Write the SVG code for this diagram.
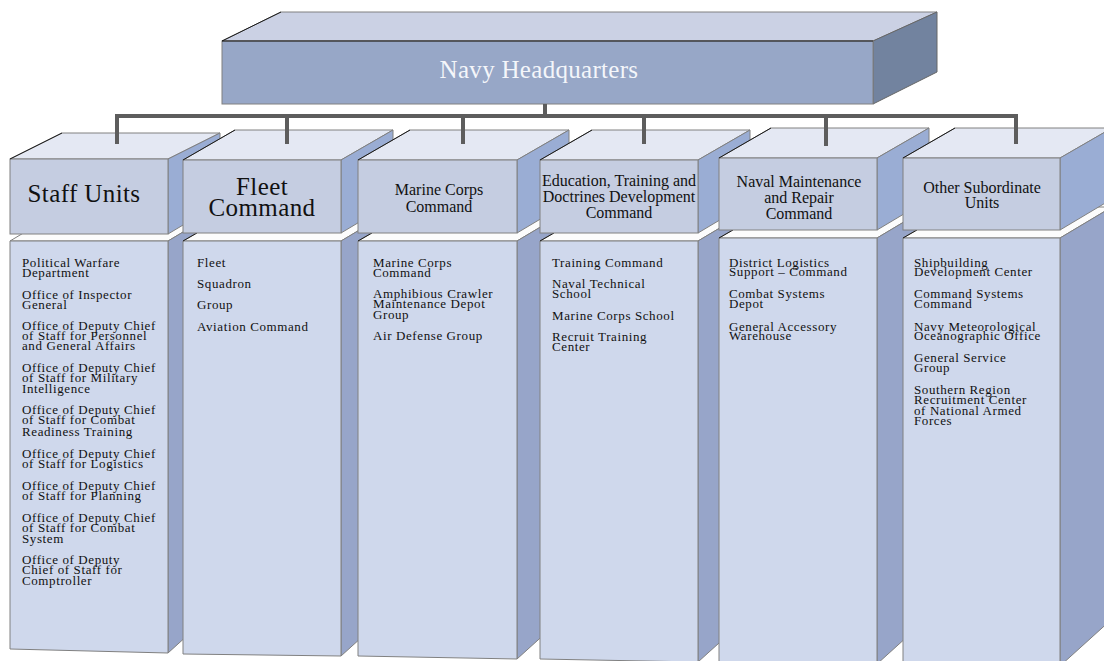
<svg xmlns="http://www.w3.org/2000/svg" width="1104" height="661" viewBox="0 0 1104 661">
<style>
.hf{fill:#c5cde1;stroke:#808080;stroke-width:1}
.ht{fill:#e4e8f3;stroke:#808080;stroke-width:1}
.hr{fill:#9aadd4;stroke:#808080;stroke-width:1}
.bf{fill:#cfd8ec;stroke:#808080;stroke-width:1}
.bt{fill:#fcfcfc;stroke:#808080;stroke-width:1}
.br{fill:#97a5c9;stroke:#808080;stroke-width:1}
.qf{fill:#97a7c7;stroke:#808080;stroke-width:1}
.qt{fill:#cbd1e4;stroke:#808080;stroke-width:1}
.qr{fill:#72839f;stroke:#666;stroke-width:1}
.edge{stroke:#1a1a1a;stroke-width:1;fill:none}
text{font-family:"Liberation Serif","Times New Roman",serif}
.hq{font-size:25px;fill:#f4f6fa;text-anchor:middle;letter-spacing:0.3px}
.big{font-size:25px;fill:#111;text-anchor:middle;letter-spacing:0.4px}
.mid{font-size:16px;fill:#111;text-anchor:middle}
.item{font-size:13px;fill:#111;letter-spacing:0.6px}
.conn{stroke:#5d5d5d;stroke-width:4;fill:none}
</style>

<g id="hq">
<polygon class="qt" points="222,41 873,41 937,12 281,12"/>
<polygon class="qr" points="873,41 937,12 937,72 873,104"/>
<rect class="qf" x="222" y="41" width="651" height="63"/>
<path class="edge" d="M222,41 L281,12 M222,41 H873"/>
<text class="hq" x="539" y="78">Navy Headquarters</text>
</g>

<g id="staff-units-list">
<polygon class="bt" points="10,241 168,241 220,210 62,210"/>
<polygon class="br" points="168,241 220,210 220,606 168,653"/>
<polygon class="bf" points="10,241 168,241 168,653 10,649"/>
<text class="item">
<tspan x="22" y="267">Political Warfare</tspan>
<tspan x="22" y="277">Department</tspan>
<tspan x="22" y="299">Office of Inspector</tspan>
<tspan x="22" y="309">General</tspan>
<tspan x="22" y="330">Office of Deputy Chief</tspan>
<tspan x="22" y="340">of Staff for Personnel</tspan>
<tspan x="22" y="350">and General Affairs</tspan>
<tspan x="22" y="372">Office of Deputy Chief</tspan>
<tspan x="22" y="382">of Staff for Military</tspan>
<tspan x="22" y="393">Intelligence</tspan>
<tspan x="22" y="414">Office of Deputy Chief</tspan>
<tspan x="22" y="424">of Staff for Combat</tspan>
<tspan x="22" y="436">Readiness Training</tspan>
<tspan x="22" y="458">Office of Deputy Chief</tspan>
<tspan x="22" y="468">of Staff for Logistics</tspan>
<tspan x="22" y="490">Office of Deputy Chief</tspan>
<tspan x="22" y="500">of Staff for Planning</tspan>
<tspan x="22" y="522">Office of Deputy Chief</tspan>
<tspan x="22" y="532">of Staff for Combat</tspan>
<tspan x="22" y="543">System</tspan>
<tspan x="22" y="564">Office of Deputy</tspan>
<tspan x="22" y="574">Chief of Staff for</tspan>
<tspan x="22" y="585">Comptroller</tspan>
</text>
</g>
<g id="staff-units">
<polygon class="ht" points="10,159 168,159 220,133 62,133"/>
<polygon class="hr" points="168,159 220,133 220,203 168,234"/>
<rect class="hf" x="10" y="159" width="158" height="75"/>
<path class="edge" d="M10,159 L62,133"/>
<text class="big" x="84" y="202">Staff Units</text>
</g>

<g id="fleet-command-list">
<polygon class="bt" points="183,241 341,241 393,210 235,210"/>
<polygon class="br" points="341,241 393,210 393,609 341,656"/>
<polygon class="bf" points="183,241 341,241 341,656 183,654"/>
<path class="edge" d="M183,241 L197,233"/>
<text class="item">
<tspan x="197" y="267">Fleet</tspan>
<tspan x="197" y="288">Squadron</tspan>
<tspan x="197" y="309">Group</tspan>
<tspan x="197" y="331">Aviation Command</tspan>
</text>
</g>
<g id="fleet-command">
<polygon class="ht" points="183,160 341,160 393,130 235,130"/>
<polygon class="hr" points="341,160 393,130 393,202 341,233"/>
<rect class="hf" x="183" y="160" width="158" height="73"/>
<path class="edge" d="M183,160 L235,130"/>
<text class="big" x="262" y="195">Fleet</text>
<text class="big" x="262" y="216">Command</text>
</g>

<g id="marine-corps-command-list">
<polygon class="bt" points="358,241 517,241 569,210 410,210"/>
<polygon class="br" points="517,241 569,210 569,612 517,659"/>
<polygon class="bf" points="358,241 517,241 517,659 358,656"/>
<path class="edge" d="M358,241 L372,233"/>
<text class="item">
<tspan x="373" y="267">Marine Corps</tspan>
<tspan x="373" y="277">Command</tspan>
<tspan x="373" y="298">Amphibious Crawler</tspan>
<tspan x="373" y="308">Maintenance Depot</tspan>
<tspan x="373" y="319">Group</tspan>
<tspan x="373" y="340">Air Defense Group</tspan>
</text>
</g>
<g id="marine-corps-command">
<polygon class="ht" points="358,160 517,160 569,130 410,130"/>
<polygon class="hr" points="517,160 569,130 569,202 517,233"/>
<rect class="hf" x="358" y="160" width="159" height="73"/>
<path class="edge" d="M358,160 L410,130"/>
<text class="mid" x="439" y="195">Marine Corps</text>
<text class="mid" x="439" y="212">Command</text>
</g>

<g id="education-command-list">
<polygon class="bt" points="540,241 698,241 750,210 592,210"/>
<polygon class="br" points="698,241 750,210 750,615 698,662"/>
<polygon class="bf" points="540,241 698,241 698,662 540,659"/>
<path class="edge" d="M540,241 L554,233"/>
<text class="item">
<tspan x="552" y="267">Training Command</tspan>
<tspan x="552" y="288">Naval Technical</tspan>
<tspan x="552" y="298">School</tspan>
<tspan x="552" y="320">Marine Corps School</tspan>
<tspan x="552" y="341">Recruit Training</tspan>
<tspan x="552" y="351">Center</tspan>
</text>
</g>
<g id="education-command">
<polygon class="ht" points="540,160 698,160 750,130 592,130"/>
<polygon class="hr" points="698,160 750,130 750,202 698,233"/>
<rect class="hf" x="540" y="160" width="158" height="73"/>
<path class="edge" d="M540,160 L592,130"/>
<text class="mid" x="619" y="186">Education, Training and</text>
<text class="mid" x="619" y="202">Doctrines Development</text>
<text class="mid" x="619" y="218">Command</text>
</g>

<g id="naval-maintenance-list">
<polygon class="bt" points="719,238 877,238 929,207 771,207"/>
<polygon class="br" points="877,238 929,207 929,617 877,664"/>
<polygon class="bf" points="719,238 877,238 877,664 719,662"/>
<path class="edge" d="M719,238 L733,230"/>
<text class="item">
<tspan x="729" y="267">District Logistics</tspan>
<tspan x="729" y="276">Support – Command</tspan>
<tspan x="729" y="298">Combat Systems</tspan>
<tspan x="729" y="308">Depot</tspan>
<tspan x="729" y="331">General Accessory</tspan>
<tspan x="729" y="340">Warehouse</tspan>
</text>
</g>
<g id="naval-maintenance">
<polygon class="ht" points="719,158 877,158 929,128 771,128"/>
<polygon class="hr" points="877,158 929,128 929,199 877,230"/>
<rect class="hf" x="719" y="158" width="158" height="72"/>
<path class="edge" d="M719,158 L771,128"/>
<text class="mid" x="799" y="187">Naval Maintenance</text>
<text class="mid" x="799" y="203">and Repair</text>
<text class="mid" x="799" y="219">Command</text>
</g>

<g id="other-units-list">
<polygon class="bt" points="903,238 1060,238 1112,207 955,207"/>
<polygon class="br" points="1060,238 1112,207 1112,619 1060,666"/>
<polygon class="bf" points="903,238 1060,238 1060,666 903,664"/>
<path class="edge" d="M903,238 L917,230"/>
<text class="item">
<tspan x="914" y="267">Shipbuilding</tspan>
<tspan x="914" y="276">Development Center</tspan>
<tspan x="914" y="298">Command Systems</tspan>
<tspan x="914" y="308">Command</tspan>
<tspan x="914" y="331">Navy Meteorological</tspan>
<tspan x="914" y="340">Oceanographic Office</tspan>
<tspan x="914" y="362">General Service</tspan>
<tspan x="914" y="372">Group</tspan>
<tspan x="914" y="394">Southern Region</tspan>
<tspan x="914" y="404">Recruitment Center</tspan>
<tspan x="914" y="415">of National Armed</tspan>
<tspan x="914" y="425">Forces</tspan>
</text>
</g>
<g id="other-units">
<polygon class="ht" points="903,158 1060,158 1112,128 955,128"/>
<polygon class="hr" points="1060,158 1112,128 1112,199 1060,230"/>
<rect class="hf" x="903" y="158" width="157" height="72"/>
<path class="edge" d="M903,158 L955,128"/>
<text class="mid" x="982" y="193">Other Subordinate</text>
<text class="mid" x="982" y="208">Units</text>
</g>

<g id="connectors">
<path class="conn" d="M545,104 V116"/>
<path class="conn" d="M117,144 V116 H1016 V144"/>
<path class="conn" d="M287,116 V144 M463,116 V144 M644,116 V144 M826,116 V146"/>
</g>
</svg>
